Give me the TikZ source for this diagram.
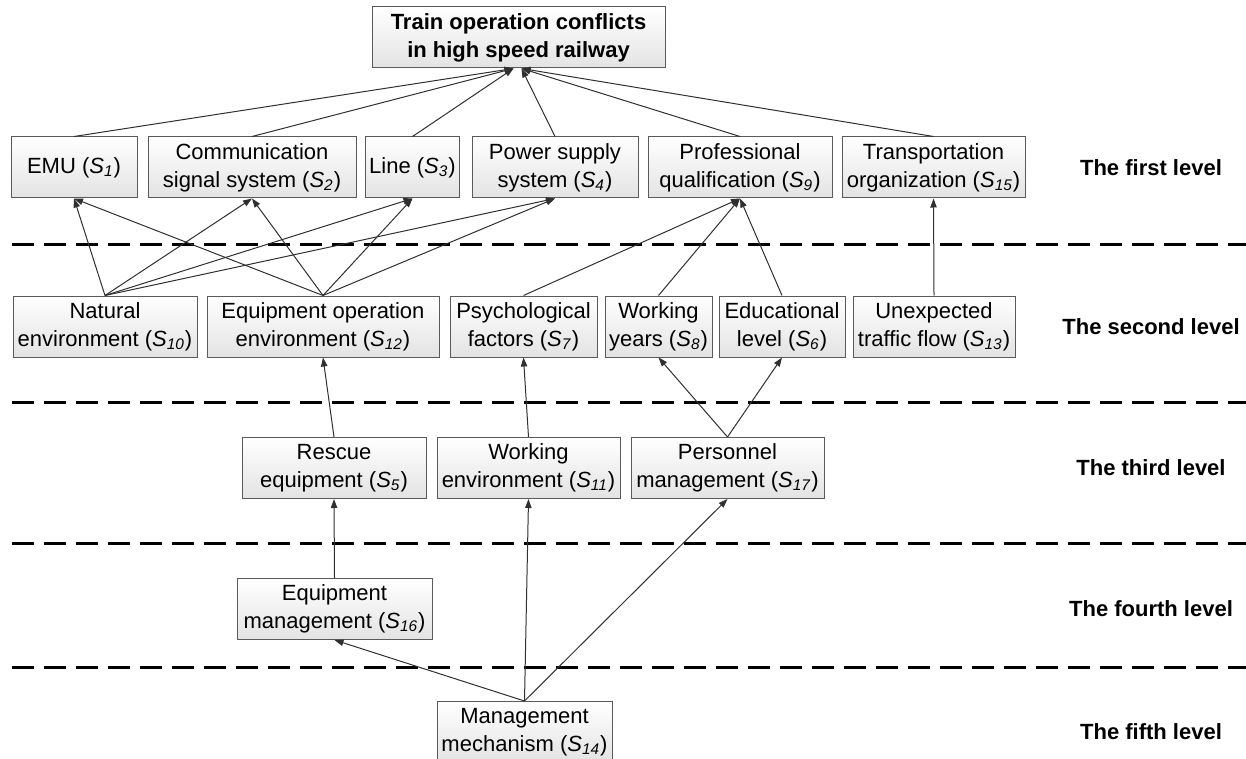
\documentclass[tikz,border=0pt]{standalone}
\usepackage{fontspec}
\setmainfont{Liberation Sans}
\usetikzlibrary{arrows.meta}
\definecolor{fedge}{HTML}{5A5A5A}
\definecolor{farrow}{HTML}{303030}
\newcommand{\Sx}[1]{(\textit{S}\textsubscript{\textit{#1}})}
\tikzset{
  fbox/.style={draw=fedge, line width=0.5pt, top color=white, bottom color=black!11,
               align=center, font=\fontsize{11}{14}\selectfont, inner sep=2pt,
               minimum height=30.5pt},
  tbox/.style={fbox, font=\fontsize{11}{14}\selectfont\bfseries},
  lvl/.style={font=\fontsize{11}{14}\selectfont\bfseries},
  sepline/.style={line width=1.5pt, dash pattern=on 11pt off 5pt},
  arr/.style={-{Triangle[length=4.5pt,width=3.2pt]}, farrow, line width=0.5pt},
}
\begin{document}
\begin{tikzpicture}[x=0.5pt, y=-0.5pt]
  \useasboundingbox (0,0) rectangle (1246,759);

  %% Level separators
  \foreach \yy in {244, 402, 543, 667}
    \draw[sepline] (12,\yy) -- (1246,\yy);

  %% Goal
  \node[tbox, minimum width=146.5pt] (top) at (518.5,37.5) {Train operation conflicts\\in high speed railway};

  %% First level
  \node[fbox, minimum width=63pt] (emu) at (74,167.5) {EMU \Sx{1}};
  \node[fbox, minimum width=104pt] (comm) at (252,167.5) {Communication\\signal system \Sx{2}};
  \node[fbox, minimum width=46.5pt] (line) at (412.5,167.5) {Line \Sx{3}};
  \node[fbox, minimum width=83pt] (power) at (555,167.5) {Power supply\\system \Sx{4}};
  \node[fbox, minimum width=92pt] (prof) at (740,167.5) {Professional\\qualification \Sx{9}};
  \node[fbox, minimum width=91.5pt] (transp) at (933.5,167.5) {Transportation\\organization \Sx{15}};
  \node[lvl] (l1) at (1151,167.5) {The first level};

  %% Second level
  \node[fbox, minimum width=92pt] (natural) at (105,326.5) {Natural\\environment \Sx{10}};
  \node[fbox, minimum width=116pt] (equipop) at (323,326.5) {Equipment operation\\environment \Sx{12}};
  \node[fbox, minimum width=73.5pt] (psych) at (523.5,326.5) {Psychological\\factors \Sx{7}};
  \node[fbox, minimum width=53.5pt] (wyears) at (658.5,326.5) {Working\\years \Sx{8}};
  \node[fbox, minimum width=63pt] (edu) at (782,326.5) {Educational\\level \Sx{6}};
  \node[fbox, minimum width=81pt] (unexp) at (934,326.5) {Unexpected\\traffic flow \Sx{13}};
  \node[lvl] (l2) at (1151,326.5) {The second level};

  %% Third level
  \node[fbox, minimum width=92pt] (rescue) at (334,468) {Rescue\\equipment \Sx{5}};
  \node[fbox, minimum width=91.5pt] (workenv) at (528.5,468) {Working\\environment \Sx{11}};
  \node[fbox, minimum width=96.5pt] (personnel) at (727.5,468) {Personnel\\management \Sx{17}};
  \node[lvl] (l3) at (1151,468) {The third level};

  %% Fourth level
  \node[fbox, minimum width=97.5pt] (equipmgmt) at (334.5,609) {Equipment\\management \Sx{16}};
  \node[lvl] (l4) at (1151,609) {The fourth level};

  %% Fifth level
  \node[fbox, minimum width=87.5pt] (mgmt) at (524.5,732) {Management\\mechanism \Sx{14}};
  \node[lvl] (l5) at (1151,732) {The fifth level};

  %% First level -> goal
  \foreach \src in {emu, comm, line}
    \draw[arr] (\src.north) -- ([xshift=-2.5pt]top.south);
  \foreach \src in {power, prof, transp}
    \draw[arr] (\src.north) -- ([xshift=1.5pt]top.south);

  %% Second level -> first level
  \foreach \dst in {emu, comm, line, power} {
    \draw[arr] (natural.north) -- (\dst.south);
    \draw[arr] (equipop.north) -- (\dst.south);
  }
  \foreach \src in {psych, wyears, edu}
    \draw[arr] (\src.north) -- (prof.south);
  \draw[arr] (unexp.north) -- (transp.south);

  %% Third level -> second level
  \draw[arr] (rescue.north) -- (equipop.south);
  \draw[arr] (workenv.north) -- (psych.south);
  \draw[arr] (personnel.north) -- (wyears.south);
  \draw[arr] (personnel.north) -- (edu.south);

  %% Fourth and fifth level
  \draw[arr] (equipmgmt.north) -- (rescue.south);
  \draw[arr] (mgmt.north) -- (equipmgmt.south);
  \draw[arr] (mgmt.north) -- (workenv.south);
  \draw[arr] (mgmt.north) -- (personnel.south);

\end{tikzpicture}
\end{document}
